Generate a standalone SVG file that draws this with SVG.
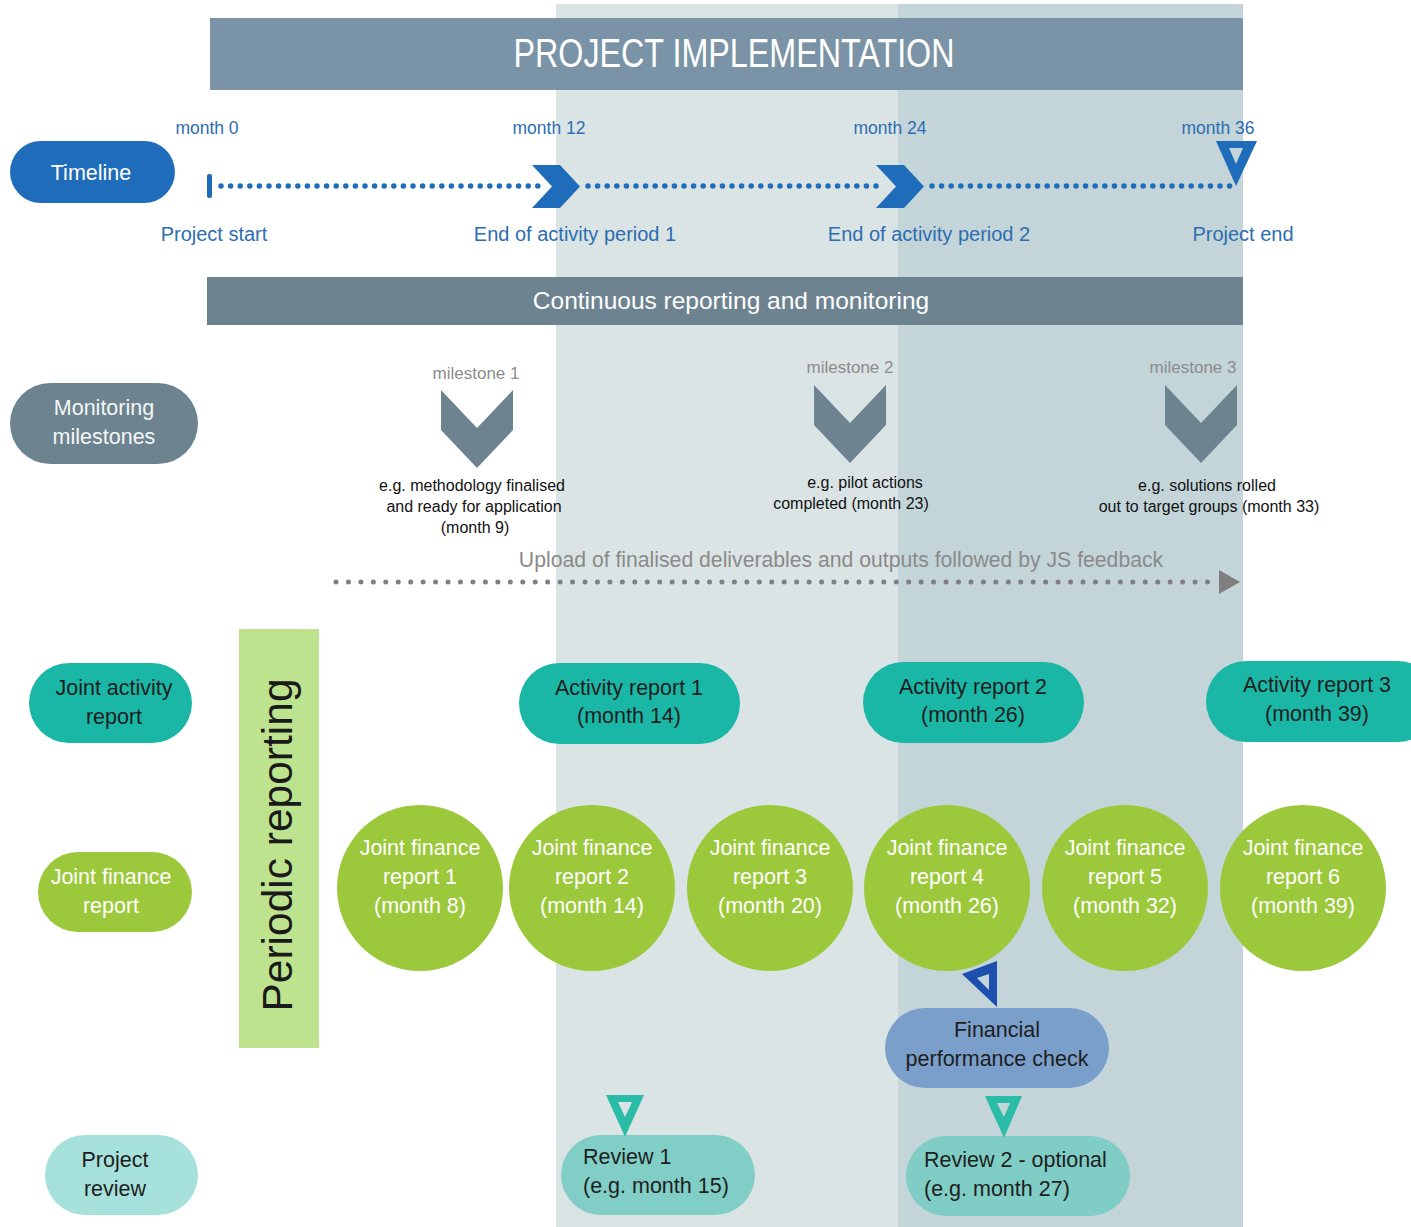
<svg xmlns="http://www.w3.org/2000/svg" width="1411" height="1227" viewBox="0 0 1411 1227">
<style>
text{font-family:"Liberation Sans",Arial,sans-serif}
.c{text-anchor:middle}
.blue{fill:#2d6db0;font-size:17.5px}
.blue2{fill:#2d6db0;font-size:20px}
.w{fill:#ffffff}
.d{fill:#1e1e1e}
.ms{fill:#8c8c8c;font-size:17px}
.desc{fill:#111;font-size:16px}
.n{font-size:21.5px}
.teal{fill:#1bb7a6}
.green{fill:#9cc83b}
.chev{fill:#6d8490}
.tl{fill:#1e6cba}
</style>
<defs>
<path id="chevR" d="M0,0 L28,0 L48,21.5 L28,43 L0,43 L20,21.5 Z"/>
<path id="chevD" d="M0,0 L36,38 L72,0 L72,40 L36,78 L0,40 Z"/>
</defs>
<!-- background bands -->
<rect x="556" y="4" width="342" height="1223" fill="#dae4e5"/>
<rect x="898" y="4" width="345" height="1223" fill="#c3d5d9"/>

<g id="title">
<rect x="210" y="18" width="1033" height="72" fill="#7b93a6"/>
<text x="734" y="67" class="c w" font-size="40" textLength="441" lengthAdjust="spacingAndGlyphs">PROJECT IMPLEMENTATION</text>
</g>

<g id="timeline-label">
<rect x="10" y="141" width="165" height="62" rx="31" class="tl"/>
<text x="91" y="180" class="c w n">Timeline</text>
</g>

<g id="timeline-axis">
<rect x="207" y="174" width="5" height="24" rx="2" class="tl"/>
<text x="207" y="134" class="c blue">month 0</text>
<text x="549" y="134" class="c blue">month 12</text>
<text x="890" y="134" class="c blue">month 24</text>
<text x="1218" y="134" class="c blue">month 36</text>
<text x="214" y="241" class="c blue2">Project start</text>
<text x="575" y="241" class="c blue2">End of activity period 1</text>
<text x="929" y="241" class="c blue2">End of activity period 2</text>
<text x="1243" y="241" class="c blue2">Project end</text>
</g>

<g id="continuous">
<rect x="207" y="277" width="1036" height="48" fill="#6d8490"/>
<text x="731" y="309" class="c w" font-size="24.5">Continuous reporting and monitoring</text>
</g>

<g id="monitoring-label">
<rect x="10" y="383" width="188" height="81" rx="40.5" fill="#6d8490"/>
<text x="104" y="415" class="c n" fill="#f4f6f7">Monitoring</text>
<text x="104" y="444" class="c n" fill="#f4f6f7">milestones</text>
</g>

<g id="milestone1">
<text x="476" y="379" class="c ms">milestone 1</text>
<use href="#chevD" x="441" y="390" class="chev"/>
<text x="472" y="491" class="c desc">e.g. methodology finalised</text>
<text x="474" y="512" class="c desc">and ready for application</text>
<text x="475" y="533" class="c desc">(month 9)</text>
</g>
<g id="milestone2">
<text x="850" y="373" class="c ms">milestone 2</text>
<use href="#chevD" x="814" y="385" class="chev"/>
<text x="865" y="488" class="c desc">e.g. pilot actions</text>
<text x="851" y="509" class="c desc">completed (month 23)</text>
</g>
<g id="milestone3">
<text x="1193" y="373" class="c ms">milestone 3</text>
<use href="#chevD" x="1165" y="385" class="chev"/>
<text x="1207" y="491" class="c desc">e.g. solutions rolled</text>
<text x="1209" y="512" class="c desc">out to target groups (month 33)</text>
</g>

<g id="upload-label">
<text x="841" y="567" class="c" fill="#8a8a8a" font-size="21.2">Upload of finalised deliverables and outputs followed by JS feedback</text>
</g>

<g id="periodic-reporting">
<rect x="239" y="629" width="80" height="419" fill="#bde38e"/>
<text transform="translate(292,845) rotate(-90)" class="c" fill="#1a1a1a" font-size="42.5">Periodic reporting</text>
</g>

<g id="joint-activity-label">
<rect x="29" y="663" width="163" height="80" rx="40" class="teal"/>
<text x="114" y="695" class="c d n">Joint activity</text>
<text x="114" y="724" class="c d n">report</text>
</g>
<g id="activity-report-1">
<rect x="519" y="663" width="221" height="81" rx="40.5" class="teal"/>
<text x="629" y="695" class="c d n">Activity report 1</text>
<text x="629" y="723" class="c d n">(month 14)</text>
</g>
<g id="activity-report-2">
<rect x="863" y="662" width="221" height="81" rx="40.5" class="teal"/>
<text x="973" y="694" class="c d n">Activity report 2</text>
<text x="973" y="722" class="c d n">(month 26)</text>
</g>
<g id="activity-report-3">
<rect x="1206" y="661" width="232" height="81" rx="40.5" class="teal"/>
<text x="1317" y="692" class="c d n">Activity report 3</text>
<text x="1317" y="721" class="c d n">(month 39)</text>
</g>

<g id="joint-finance-label">
<rect x="38" y="852" width="154" height="80" rx="40" class="green"/>
<text x="111" y="884" class="c w n">Joint finance</text>
<text x="111" y="913" class="c w n">report</text>
</g>
<g id="finance-report-1">
<circle cx="420" cy="888" r="83" class="green"/>
<text x="420" y="855" class="c w n">Joint finance</text>
<text x="420" y="884" class="c w n">report 1</text>
<text x="420" y="913" class="c w n">(month 8)</text>
</g>
<g id="finance-report-2">
<circle cx="592" cy="888" r="83" class="green"/>
<text x="592" y="855" class="c w n">Joint finance</text>
<text x="592" y="884" class="c w n">report 2</text>
<text x="592" y="913" class="c w n">(month 14)</text>
</g>
<g id="finance-report-3">
<circle cx="770" cy="888" r="83" class="green"/>
<text x="770" y="855" class="c w n">Joint finance</text>
<text x="770" y="884" class="c w n">report 3</text>
<text x="770" y="913" class="c w n">(month 20)</text>
</g>
<g id="finance-report-4">
<circle cx="947" cy="888" r="83" class="green"/>
<text x="947" y="855" class="c w n">Joint finance</text>
<text x="947" y="884" class="c w n">report 4</text>
<text x="947" y="913" class="c w n">(month 26)</text>
</g>
<g id="finance-report-5">
<circle cx="1125" cy="888" r="83" class="green"/>
<text x="1125" y="855" class="c w n">Joint finance</text>
<text x="1125" y="884" class="c w n">report 5</text>
<text x="1125" y="913" class="c w n">(month 32)</text>
</g>
<g id="finance-report-6">
<circle cx="1303" cy="888" r="83" class="green"/>
<text x="1303" y="855" class="c w n">Joint finance</text>
<text x="1303" y="884" class="c w n">report 6</text>
<text x="1303" y="913" class="c w n">(month 39)</text>
</g>

<g id="financial-check">
<rect x="885" y="1008" width="224" height="80" rx="40" fill="#7a9fcb"/>
<text x="997" y="1037" class="c d n">Financial</text>
<text x="997" y="1066" class="c d n">performance check</text>
</g>

<g id="project-review-label">
<rect x="45" y="1135" width="153" height="80" rx="40" fill="#a6e1db"/>
<text x="115" y="1167" class="c d n">Project</text>
<text x="115" y="1196" class="c d n">review</text>
</g>
<g id="review-1">
<rect x="561" y="1135" width="194" height="80" rx="40" fill="#80cec6"/>
<text x="583" y="1164" class="d n">Review 1</text>
<text x="583" y="1193" class="d n">(e.g. month 15)</text>
</g>
<g id="review-2">
<rect x="906" y="1136" width="224" height="80" rx="40" fill="#7fcdc5"/>
<text x="924" y="1167" class="d n">Review 2 - optional</text>
<text x="924" y="1196" class="d n">(e.g. month 27)</text>
</g>

<g id="connectors">
<!-- timeline dotted line -->
<g stroke="#1e6cba" stroke-width="5.5" stroke-linecap="round" stroke-dasharray="0 9.6" fill="none">
<line x1="221" y1="186" x2="540" y2="186"/>
<line x1="588" y1="186" x2="880" y2="186"/>
<line x1="932" y1="186" x2="1232" y2="186"/>
</g>
<use href="#chevR" x="532" y="165" class="tl"/>
<use href="#chevR" x="876" y="165" class="tl"/>
<path d="M1216,141 L1257,141 L1236,186 Z M1229,148 L1236,164 L1243,148 Z" fill-rule="evenodd" class="tl"/>
<!-- upload dotted line -->
<line x1="336" y1="582" x2="1212" y2="582" stroke="#7f7f7f" stroke-width="5" stroke-linecap="round" stroke-dasharray="0 12.45"/>
<path d="M1219,570 L1240,582 L1219,594 Z" fill="#7f7f7f"/>
<!-- finance report 4 to financial check -->
<path d="M962,974 L997,961 L997,1007 Z M977,978 L989,974 L989,990 Z" fill-rule="evenodd" fill="#1d4fae"/>
<!-- financial check to review 2 -->
<path d="M985,1096 L1022,1096 L1004,1138 Z M997,1103 L1010,1103 L1004,1117 Z" fill-rule="evenodd" fill="#2bbca8"/>
<!-- review 1 -->
<path d="M606,1095 L644,1095 L625,1137 Z M618,1102 L632,1102 L625,1117 Z" fill-rule="evenodd" fill="#2bbca8"/>
</g>
</svg>
